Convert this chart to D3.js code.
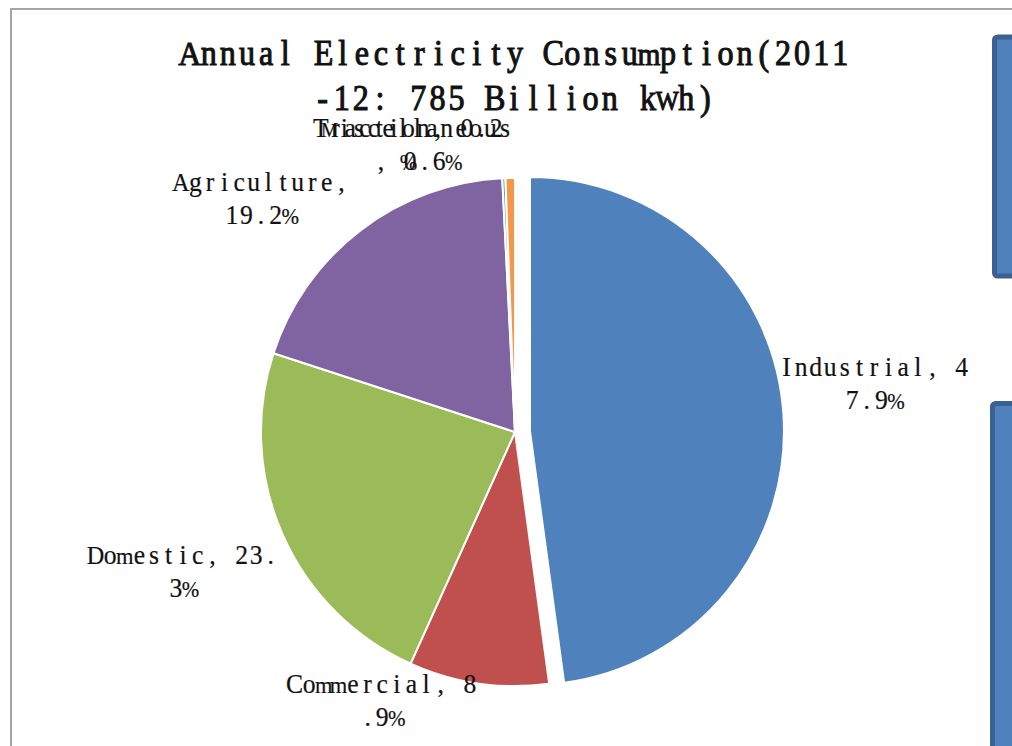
<!DOCTYPE html>
<html>
<head>
<meta charset="utf-8">
<script src="https://cdn.jsdelivr.net/npm/d3@7"></script>
<style>
  html, body { margin: 0; padding: 0; background: #ffffff; }
  svg { display: block; }
</style>
</head>
<body>
<svg id="chart" width="1012" height="746"></svg>
<script>
// Electricity consumption by sector, 2011-12 (share of 785 billion kWh)
const categories = ["Industrial", "Commercial", "Domestic", "Agriculture", "Traction", "Miscellaneous"];
const shares = [47.9, 8.9, 23.3, 19.2, 0.2, 0.6];
const colors = ["#4f81bd", "#c0504d", "#9bbb59", "#8064a2", "#4bacc6", "#f79646"];
const titleLines = ["Annual Electricity Consumption(2011", "-12: 785 Billion kWh)"];

const svg = d3.select("#chart");
const W = 1012, H = 746;
const FONT = "'Liberation Serif', 'DejaVu Serif', serif";

// chart area frame
svg.append("rect")
  .attr("x", 11).attr("y", 9)
  .attr("width", W + 40).attr("height", H + 40)
  .attr("fill", "#ffffff")
  .attr("stroke", "#a5a5a5").attr("stroke-width", 2);

// glyph widths, used to shrink only the widest glyphs toward their cell
const probe = svg.append("text").style("font-family", FONT).style("font-size", "100px")
  .style("white-space", "pre").attr("visibility", "hidden");
const glyphWidth = {};
function widthOf(ch) {
  if (!(ch in glyphWidth)) {
    probe.text(ch);
    glyphWidth[ch] = probe.node().getComputedTextLength() / 100;
  }
  return glyphWidth[ch];
}

// Text laid out in fixed-width cells, each glyph centred in its cell
function cellText(parent, str, cx, baseline, cell, size, sx, opts = {}) {
  const n = str.length;
  const x0 = cx - n * cell / 2;
  const t = parent.append("text")
    .attr("transform", `scale(${sx},1)`)
    .attr("y", baseline)
    .attr("text-anchor", "middle")
    .style("font-family", FONT)
    .style("font-size", size + "px")
    .style("white-space", "pre")
    .attr("fill", "#111")
    .attr("stroke", opts.stroke ? "#111" : "none")
    .attr("stroke-width", opts.stroke || 0);
  Array.from(str).forEach((ch, i) => {
    const w = widthOf(ch) * size * sx;
    const f = Math.min(1, (cell * 1.2) / Math.max(w, 1e-6));
    t.append("tspan")
      .attr("x", ((x0 + (i + 0.5) * cell) / sx).toFixed(2))
      .style("font-size", (size * f).toFixed(2) + "px")
      .text(ch);
  });
  return t;
}

// title
const titleCell = 19.14;
cellText(svg, titleLines[0], 515, 65, titleCell, 35, 0.92, { stroke: 1.0 });
cellText(svg, titleLines[1], 514, 110, titleCell, 35, 0.92, { stroke: 1.0 });

// pie
const cx = 515, cy = 432, radius = 254, explode = 15;
const pie = d3.pie().sort(null).value(d => d)(shares);
const arc = d3.arc().innerRadius(0).outerRadius(radius);
const g = svg.append("g").attr("transform", `translate(${cx},${cy})`);

function midAngle(d) { return (d.startAngle + d.endAngle) / 2; }
function offsetOf(d, i) {
  const k = i === 0 ? explode : 0;
  const a = midAngle(d);
  return [Math.sin(a) * k, -Math.cos(a) * k];
}

g.selectAll("path.slice")
  .data(pie)
  .join("path")
  .attr("class", "slice")
  .attr("d", arc)
  .attr("transform", (d, i) => { const o = offsetOf(d, i); return `translate(${o[0]},${o[1]})`; })
  .attr("fill", (d, i) => colors[i])
  .attr("stroke", "#ffffff")
  .attr("stroke-width", 2)
  .attr("stroke-linejoin", "round");

// data labels: "Name, xx.x%", wrapped at 13 characters, placed beside the slice
const labelCell = 14.6, wrapAt = 13, lineGap = 33;
function wrap(s) {
  const lines = [];
  for (let i = 0; i < s.length; i += wrapAt) lines.push(s.slice(i, i + wrapAt).trim());
  return lines;
}
// best-fit adjustments of each label relative to its slice anchor
const labelNudge = [[-8, -28], [-82, -20], [-9, 21], [-44, -3], [-91, 3], [-91, 3]];

const labels = svg.append("g");
pie.forEach((d, i) => {
  const text = `${categories[i]}, ${d3.format(".1f")(shares[i])}%`;
  const lines = wrap(text);
  const a = midAngle(d);
  const o = offsetOf(d, i);
  const dirX = Math.sin(a), dirY = -Math.cos(a);
  const ax = cx + o[0] + dirX * (radius + 4);
  const ay = cy + o[1] + dirY * (radius + 4);
  const halfW = d3.max(lines, l => l.length) * labelCell / 2;
  const bx = ax + dirX * halfW + labelNudge[i][0];
  const by = ay + dirY * lineGap + labelNudge[i][1];
  lines.forEach((l, j) => {
    cellText(labels, l, bx, by - 7 + j * lineGap, labelCell, 27, 0.95, { stroke: 0.2 });
  });
});
probe.remove();

// shapes at the right edge
const boxes = [{ y0: 37, y1: 276, x0: 994.5 }, { y0: 403.5, y1: 800, x0: 992.5 }];
svg.selectAll("rect.box")
  .data(boxes)
  .join("rect")
  .attr("class", "box")
  .attr("x", d => d.x0).attr("y", d => d.y0)
  .attr("width", 60).attr("height", d => d.y1 - d.y0)
  .attr("rx", 3)
  .attr("fill", "#4f81bd")
  .attr("stroke", "#3b6190").attr("stroke-width", 5);
</script>
</body>
</html>
